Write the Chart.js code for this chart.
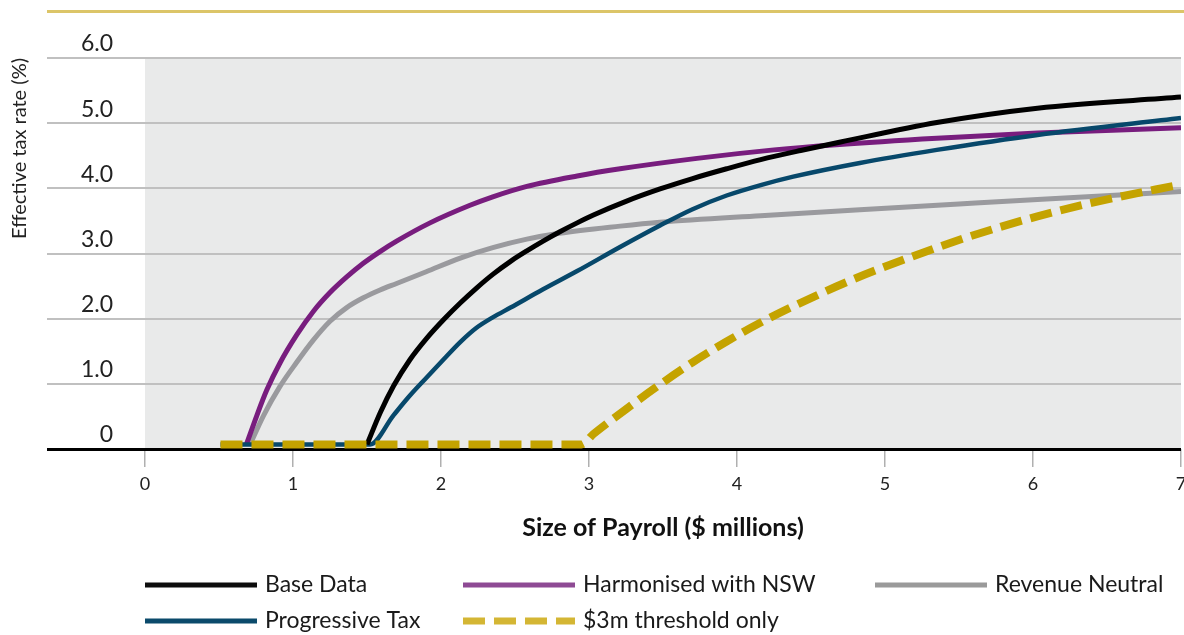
<!DOCTYPE html>
<html>
<head>
<meta charset="utf-8">
<script src="https://cdn.jsdelivr.net/npm/chart.js@4.4.1/dist/chart.umd.min.js"></script>
<style>
  html, body { margin: 0; padding: 0; background: #ffffff; }
  #wrap { width: 1184px; height: 635px; position: relative; }
  canvas { display: block; }
</style>
</head>
<body>
<div id="wrap"><canvas id="c" width="1184" height="635"></canvas></div>
<script>
// ---- Data ----
const seriesNames = ['Base Data', 'Harmonised with NSW', 'Revenue Neutral', 'Progressive Tax', '$3m threshold only'];

const baseX = [1.50, 1.59, 1.68, 1.79, 1.90, 2.02, 2.13, 2.24, 2.35, 2.47, 2.58, 2.69, 2.80, 2.92, 3.03, 3.25, 3.48, 3.70, 3.93, 4.16, 4.43, 4.70, 5.35, 6.03, 7.00];
const baseY = [0.07, 0.56, 0.97, 1.37, 1.69, 1.99, 2.24, 2.47, 2.68, 2.88, 3.04, 3.19, 3.33, 3.47, 3.59, 3.80, 3.99, 4.15, 4.30, 4.44, 4.58, 4.71, 5.01, 5.23, 5.40];

const nswX = [0.685, 0.755, 0.822, 0.912, 1.025, 1.137, 1.25, 1.363, 1.475, 1.588, 1.70, 1.926, 2.196, 2.35, 2.58, 2.92, 3.21, 3.73, 4.25, 4.67, 5.35, 6.03, 7.00];
const nswY = [0.07, 0.51, 0.90, 1.32, 1.75, 2.11, 2.40, 2.64, 2.85, 3.03, 3.19, 3.47, 3.74, 3.87, 4.03, 4.19, 4.30, 4.46, 4.59, 4.67, 4.77, 4.85, 4.93];

const neutralX = [0.71, 0.80, 0.912, 1.025, 1.137, 1.25, 1.363, 1.475, 1.588, 1.70, 1.90, 2.13, 2.35, 2.58, 2.80, 3.21, 3.48, 4.16, 4.83, 5.50, 6.03, 7.00];
const neutralY = [0.07, 0.51, 0.96, 1.33, 1.67, 1.96, 2.17, 2.32, 2.44, 2.54, 2.72, 2.93, 3.09, 3.22, 3.31, 3.42, 3.48, 3.58, 3.67, 3.76, 3.83, 3.95];

const progX = [0.51, 1.52, 1.68, 1.79, 1.90, 2.02, 2.13, 2.24, 2.35, 2.47, 2.69, 2.92, 3.21, 3.48, 3.70, 3.93, 4.16, 4.38, 4.83, 5.35, 6.03, 7.00];
const progY = [0.07, 0.07, 0.52, 0.82, 1.09, 1.38, 1.64, 1.86, 2.02, 2.17, 2.45, 2.73, 3.10, 3.43, 3.68, 3.89, 4.05, 4.18, 4.39, 4.59, 4.82, 5.08];

const threshX = [0.51, 2.95, 3.03, 3.25, 3.48, 3.70, 3.93, 4.16, 4.38, 4.76, 5.12, 5.57, 6.03, 6.48, 7.00];
const threshY = [0.07, 0.07, 0.23, 0.61, 0.99, 1.33, 1.65, 1.94, 2.19, 2.58, 2.90, 3.26, 3.57, 3.82, 4.06];

const xTicks = [0, 1, 2, 3, 4, 5, 6, 7];
const yTickLabels = ['0', '1.0', '2.0', '3.0', '4.0', '5.0', '6.0'];

const xTitle = 'Size of Payroll ($ millions)';
const yTitle = 'Effective tax rate (%)';

// ---- helpers ----
const pts = (xs, ys) => xs.map((x, i) => ({ x: x, y: ys[i] }));

Chart.defaults.font.family = 'Lato, "Open Sans", sans-serif';
Chart.defaults.color = '#222222';

const PLOT_BG = '#E9EAEA';
const GRID = '#C0C0C0';

const plotBgPlugin = {
  id: 'plotBg',
  beforeDraw(chart) {
    const { ctx, chartArea: a } = chart;
    ctx.save();
    ctx.fillStyle = PLOT_BG;
    ctx.fillRect(a.left, a.top, a.right - a.left, a.bottom - a.top);
    // gold rule along the top
    ctx.strokeStyle = '#DCC568';
    ctx.lineWidth = 3;
    ctx.beginPath();
    ctx.moveTo(47, 11.5);
    ctx.lineTo(chart.width, 11.5);
    ctx.stroke();
    ctx.restore();
  }
};

// legend drawn in a fixed 3-column grid
const legendPlugin = {
  id: 'gridLegend',
  afterDraw(chart) {
    const { ctx } = chart;
    const cols = [145, 463, 875];
    const rows = [585, 621];
    const lineLen = 112;
    ctx.save();
    chart.data.datasets.forEach((ds, i) => {
      const cx = cols[i % 3];
      const cy = rows[Math.floor(i / 3)];
      ctx.strokeStyle = ds.legendColor || ds.borderColor;
      ctx.lineWidth = ds.legendWidth || 5;
      ctx.lineCap = 'butt';
      ctx.setLineDash(ds.borderDash || []);
      ctx.beginPath();
      ctx.moveTo(cx, cy);
      ctx.lineTo(cx + lineLen, cy);
      ctx.stroke();
      ctx.setLineDash([]);
      ctx.fillStyle = '#1a1a1a';
      ctx.font = '23px Lato, "Open Sans", sans-serif';
      ctx.textAlign = 'left';
      ctx.textBaseline = 'middle';
      ctx.fillText(ds.label, cx + lineLen + 8, cy);
    });
    ctx.restore();
  }
};

const common = {
  fill: false,
  pointRadius: 0,
  pointHoverRadius: 0,
  cubicInterpolationMode: 'monotone',
  borderCapStyle: 'butt',
  borderJoinStyle: 'round'
};

new Chart(document.getElementById('c'), {
  type: 'line',
  data: {
    datasets: [
      Object.assign({}, common, { label: seriesNames[0], data: pts(baseX, baseY), borderColor: '#000000', legendColor: '#0d0d0d', borderWidth: 5, order: 1 }),
      Object.assign({}, common, { label: seriesNames[1], data: pts(nswX, nswY), borderColor: '#781D7E', legendColor: '#8E4A94', borderWidth: 5, order: 3 }),
      Object.assign({}, common, { label: seriesNames[2], data: pts(neutralX, neutralY), borderColor: '#9A9A9E', legendColor: '#9A9A9A', borderWidth: 5, order: 4 }),
      Object.assign({}, common, { label: seriesNames[3], data: pts(progX, progY), borderColor: '#07486B', legendColor: '#0B4A6B', borderWidth: 4.5, order: 2 }),
      Object.assign({}, common, { label: seriesNames[4], data: pts(threshX, threshY), borderColor: '#C4A300', legendColor: '#D4B634', borderWidth: 8, legendWidth: 7, borderDash: [22, 9], order: 0 })
    ]
  },
  options: {
    responsive: false,
    animation: false,
    devicePixelRatio: 1,
    events: [],
    layout: { padding: { left: 0, right: 3, top: 58, bottom: 86 } },
    plugins: {
      legend: { display: false },
      tooltip: { enabled: false },
      title: { display: false }
    },
    scales: {
      x: {
        type: 'linear',
        min: 0,
        max: 7,
        afterBuildTicks(scale) { scale.ticks = xTicks.map(v => ({ value: v })); },
        afterFit(scale) { scale.height = 100; scale.paddingLeft = 0; scale.paddingRight = 0; },
        border: { display: false },
        grid: {
          display: true,
          drawOnChartArea: false,
          drawTicks: true,
          tickLength: 18,
          color: '#B0B0B0',
          lineWidth: 1.5
        },
        ticks: {
          padding: 6,
          font: { size: 18 },
          color: '#222222',
          maxRotation: 0,
          callback: (v) => String(v)
        },
        title: {
          display: true,
          text: xTitle,
          font: { size: 25, weight: 'bold' },
          color: '#111111',
          padding: { top: 0, bottom: 6 }
        }
      },
      y: {
        type: 'linear',
        min: 0,
        max: 6,
        afterBuildTicks(scale) { scale.ticks = yTickLabels.map((t, i) => ({ value: i })); },
        afterFit(scale) { scale.width = 145; scale.paddingTop = 0; scale.paddingBottom = 0; },
        border: { display: false },
        grid: {
          display: true,
          drawOnChartArea: true,
          drawTicks: true,
          tickLength: 98,
          color: (c) => (c.tick && c.tick.value === 0 ? '#000000' : GRID),
          lineWidth: (c) => (c.tick && c.tick.value === 0 ? 3 : 2)
        },
        ticks: {
          padding: -66,
          labelOffset: -14,
          font: { size: 23 },
          color: '#222222',
          callback: (v, i) => yTickLabels[i]
        },
        title: {
          display: true,
          text: yTitle,
          align: 'end',
          font: { size: 20 },
          color: '#222222',
          padding: { top: 8, bottom: 0 }
        }
      }
    }
  },
  plugins: [plotBgPlugin, legendPlugin]
});
</script>
</body>
</html>
